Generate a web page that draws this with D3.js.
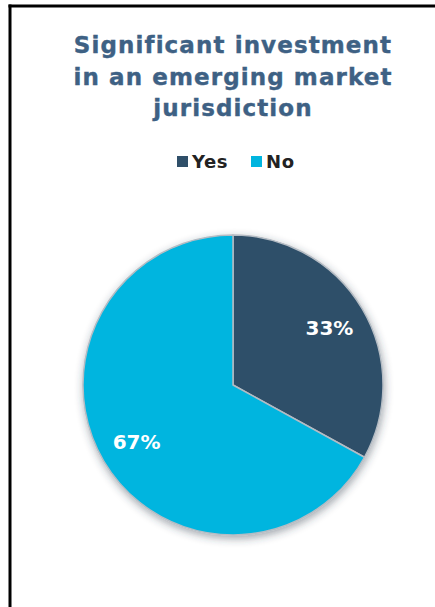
<!DOCTYPE html>
<html>
<head>
<meta charset="utf-8">
<script src="https://cdn.jsdelivr.net/npm/d3@7"></script>
<style>
  html, body { margin: 0; padding: 0; background: #fff; }
  svg { display: block; }
</style>
</head>
<body>
<svg id="chart" width="435" height="607"></svg>
<script>
const categories = ['Yes', 'No'];
const values = [33, 67];
const titleLines = ['Significant investment', 'in an emerging market', 'jurisdiction'];

const W = 435, H = 607;
const cx = 233, cy = 385, R = 150;
const colors = d3.scaleOrdinal().domain(categories).range(['#2f4f69', '#00b5df']);

const svg = d3.select('#chart');

// frame: top and left lines only
svg.append('line').attr('x1', 8.5).attr('x2', W).attr('y1', 6).attr('y2', 6)
  .attr('stroke', '#000').attr('stroke-width', 3);
svg.append('line').attr('x1', 10).attr('x2', 10).attr('y1', 4.5).attr('y2', H)
  .attr('stroke', '#000').attr('stroke-width', 3);

// title
svg.append('text')
  .attr('text-anchor', 'middle')
  .attr('font-family', 'DejaVu Sans, Verdana, sans-serif')
  .attr('font-weight', 'bold')
  .attr('font-size', 23)
  .attr('letter-spacing', 1.1)
  .attr('fill', '#3e6184')
  .attr('stroke', '#3e6184')
  .attr('stroke-width', 0.4)
  .selectAll('tspan')
  .data(titleLines)
  .join('tspan')
  .attr('x', cx)
  .attr('y', (d, i) => 53 + i * 31.5)
  .text(d => d);

// legend
const legend = svg.append('g')
  .attr('font-family', 'DejaVu Sans, Tahoma, sans-serif')
  .attr('font-weight', 'bold')
  .attr('font-size', 18)
  .attr('letter-spacing', 0.6)
  .attr('fill', '#222');
const legendX = [177, 251];
categories.forEach((c, i) => {
  const g = legend.append('g').attr('transform', `translate(${legendX[i]},168)`);
  g.append('rect').attr('x', 0).attr('y', -12).attr('width', 11).attr('height', 11)
    .attr('fill', colors(c));
  g.append('text').attr('x', 15).attr('y', 0).text(c);
});

// shadow filter
const defs = svg.append('defs');
const f = defs.append('filter').attr('id', 'shadow')
  .attr('x', '-20%').attr('y', '-20%').attr('width', '140%').attr('height', '140%');
f.append('feDropShadow').attr('dx', 1).attr('dy', 3).attr('stdDeviation', 4)
  .attr('flood-color', '#2a3a4a').attr('flood-opacity', 0.45);

const pie = d3.pie().sort(null).value(d => d.value);
const arcs = pie(categories.map((c, i) => ({ cat: c, value: values[i] })));
const arc = d3.arc().innerRadius(0).outerRadius(R);
const labelArc = d3.arc().innerRadius(112).outerRadius(112);

const g = svg.append('g').attr('transform', `translate(${cx},${cy})`);
g.append('g').attr('filter', 'url(#shadow)')
  .selectAll('path')
  .data(arcs)
  .join('path')
  .attr('d', arc)
  .attr('fill', d => colors(d.data.cat))
  .attr('stroke', '#b4bcc4')
  .attr('stroke-width', 1.5)
  .attr('stroke-linejoin', 'round');

g.selectAll('text.lbl')
  .data(arcs)
  .join('text')
  .attr('class', 'lbl')
  .attr('transform', d => `translate(${labelArc.centroid(d)})`)
  .attr('text-anchor', 'middle')
  .attr('dy', '0.36em')
  .attr('font-family', 'DejaVu Sans, Tahoma, sans-serif')
  .attr('font-weight', 'bold')
  .attr('font-size', 20)
  .attr('fill', '#fff')
  .text(d => d.data.value + '%');
</script>
</body>
</html>
